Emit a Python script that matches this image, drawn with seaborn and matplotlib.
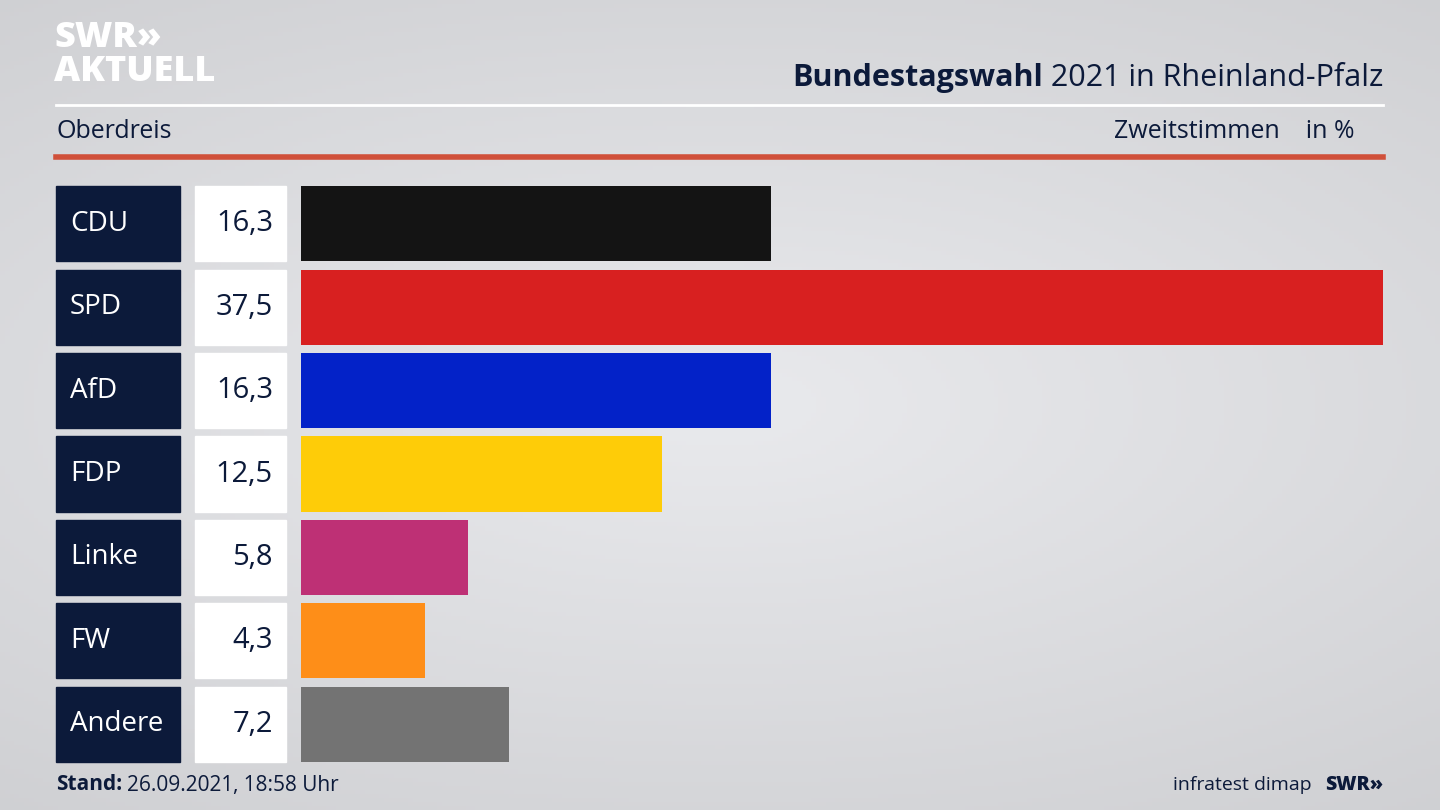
import numpy as np
import pandas as pd
import matplotlib
matplotlib.use("Agg")
import matplotlib.pyplot as plt
import matplotlib.patches as mpatches
import matplotlib.transforms as mtrans
import seaborn as sns

parties = ["CDU", "SPD", "AfD", "FDP", "Linke", "FW", "Andere"]
values = [16.3, 37.5, 16.3, 12.5, 5.8, 4.3, 7.2]
colors = ["#141414", "#d82020", "#0322c8", "#fecc08", "#be3075", "#fe8e18", "#737373"]
value_labels = ["16,3", "37,5", "16,3", "12,5", "5,8", "4,3", "7,2"]

plt.rcParams["font.family"] = "Open Sans"
W, H = 1440, 810
fig = plt.figure(figsize=(14.4, 8.1), dpi=100)

bg = fig.add_axes([0, 0, 1, 1], zorder=-10)
xx = np.linspace(-1, 1, 300)
yy = np.linspace(-1, 1, 200)
X, Y = np.meshgrid(xx, yy)
R = np.sqrt(X**2 * 0.6 + Y**2)
img = 0.915 - 0.08 * R
bg.imshow(np.dstack([img, img + 0.003, img + 0.015]).clip(0, 1), aspect="auto", extent=[0, 1, 0, 1])
bg.axis("off")

def fx(px): return px / W
def fy(py): return 1 - py / H

ax = fig.add_axes([fx(301), fy(765.7), fx(1383) - fx(301), (765.7 - 182.3) / H])
df = pd.DataFrame({"party": parties, "value": values})
sns.barplot(data=df, x="value", y="party", hue="party", palette=colors, legend=False,
            width=0.9, saturation=1, ax=ax, orient="h")
ax.set_xlim(0, 37.5)
ax.set_ylim(6.5, -0.5)
ax.axis("off")

navy = "#0c1a3a"
tr = mtrans.blended_transform_factory(fig.transFigure, ax.transData)
for i, (p, vl) in enumerate(zip(parties, value_labels)):
    fig.patches.append(mpatches.Rectangle((fx(56), i - 0.45), fx(180) - fx(56), 0.9,
                                          transform=tr, color=navy, figure=fig))
    fig.patches.append(mpatches.Rectangle((fx(195), i - 0.45), fx(286) - fx(195), 0.9,
                                          transform=tr, color="white", figure=fig))
    fig.text(fx(70), i, p, transform=tr, color="white", fontsize=20, va="center", ha="left")
    fig.text(fx(273), i, vl, transform=tr, color=navy, fontsize=21, va="center", ha="right")

fig.text(fx(54), fy(38), "SWR»", fontsize=26, fontweight="heavy", color="white", va="center")
fig.text(fx(54), fy(72), "AKTUELL", fontsize=26, fontweight="heavy", color="white", va="center")
t2 = fig.text(fx(1383), fy(78), " 2021 in Rheinland-Pfalz", fontsize=22, color=navy, ha="right", va="center")
r = fig.canvas.get_renderer()
w2 = t2.get_window_extent(r).width
fig.text(fx(1383 - w2), fy(78), "Bundestagswahl", fontsize=22, fontweight="bold",
         color=navy, ha="right", va="center")
fig.add_artist(plt.Line2D([fx(56), fx(1383)], [fy(105), fy(105)], color="white", lw=2))
fig.text(fx(56), fy(132), "Oberdreis", fontsize=18, color=navy, va="center")
fig.text(fx(1355), fy(132), "Zweitstimmen    in %", fontsize=18, color=navy, va="center", ha="right")
fig.add_artist(plt.Line2D([fx(56), fx(1383)], [fy(157), fy(157)], color="#d0503a", lw=4))
t3 = fig.text(fx(56), fy(785), "Stand:", fontsize=15, fontweight="bold", color=navy, va="center")
w3 = t3.get_window_extent(r).width
fig.text(fx(56 + w3 + 5), fy(785), "26.09.2021, 18:58 Uhr", fontsize=15, color=navy, va="center")
fig.text(fx(1383), fy(785), "SWR»", fontsize=14, fontweight="heavy", color=navy, va="center", ha="right")
fig.text(fx(1312), fy(785), "infratest dimap", fontsize=14, color=navy, va="center", ha="right")

fig.savefig("out.png", dpi=100)
